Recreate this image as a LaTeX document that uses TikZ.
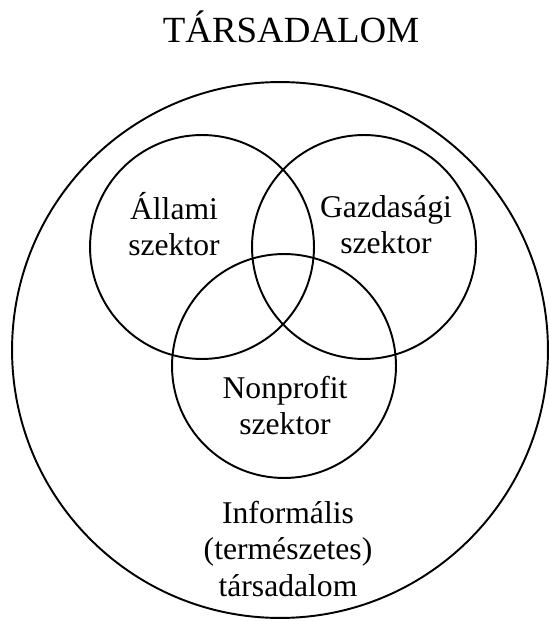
\documentclass[tikz,border=0pt]{standalone}
\usepackage{fontspec}
\setmainfont{Liberation Serif}
\usepackage{tikz}
\usetikzlibrary{shapes, positioning}

\begin{document}
\begin{tikzpicture}[x=0.02cm, y=-0.02cm, every node/.style={font=\fontsize{18}{20.5}\selectfont, align=center},
    ring/.style={draw, circle, line width=1.1pt, inner sep=0pt}]
        \useasboundingbox (0,0) rectangle (549,621);
        % Title
        \node[anchor=base, font=\fontsize{21}{24}\selectfont] (title) at (291,43) {TÁRSADALOM};
        % Society
        \node[ring, minimum size=10.72cm] (tars) at (280,350) {};
        % Sectors
        \foreach \nm/\x/\y in {allam/202/247, gazd/364/247, nonprof/284/366} {
            \node[ring, minimum size=4.48cm] (\nm) at (\x,\y) {};
        }
        % Labels
        \node (allamtxt) at (174,224) {Állami\\szektor};
        \node (gazdtxt) at (386,225) {Gazdasági\\szektor};
        \node (nonproftxt) at (285,406) {Nonprofit\\szektor};
        \node (informtxt) at (288,549) {Informális\\(természetes)\\társadalom};
    \end{tikzpicture}
\end{document}
